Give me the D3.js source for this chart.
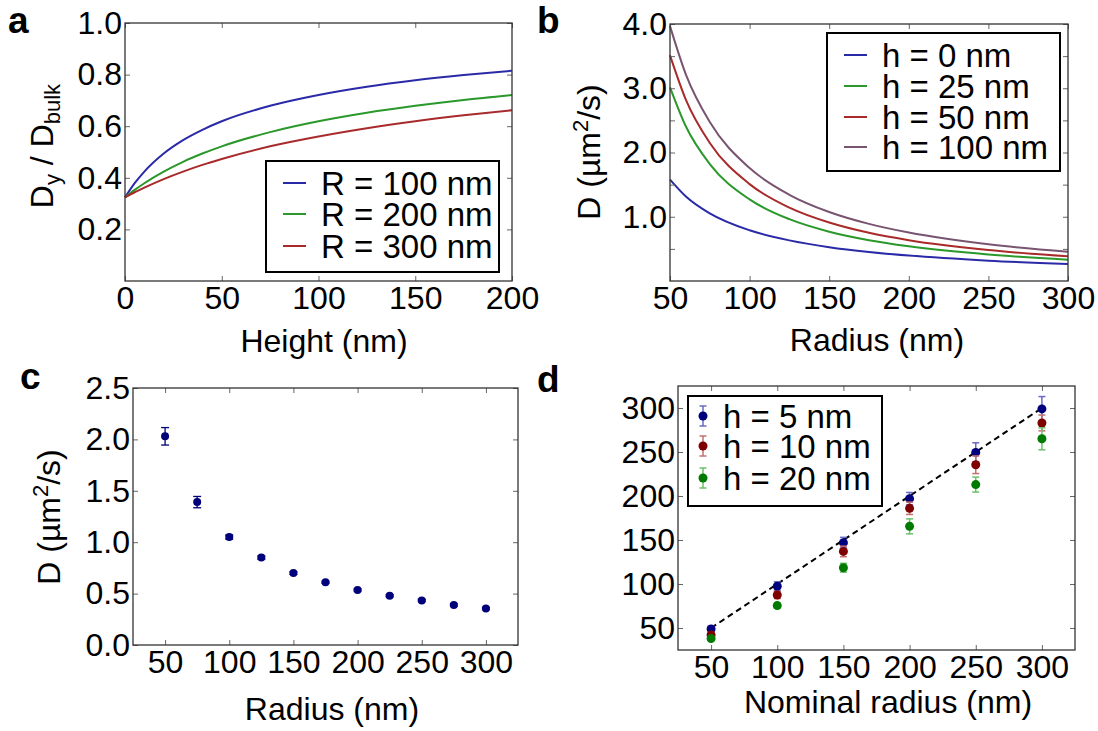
<!DOCTYPE html>
<html>
<head>
<meta charset="utf-8">
<script src="https://cdn.jsdelivr.net/npm/d3@7"></script>
<style>
  body { margin: 0; background: #fff; }
</style>
</head>
<body>
<script>
// ---- panel a: Dy/Dbulk vs height ----
var heightA   = [0, 5, 10, 20, 30, 40, 50, 75, 100, 125, 150, 175, 200];
var ratioR100 = [0.324, 0.379, 0.424, 0.494, 0.546, 0.586, 0.619, 0.679, 0.721, 0.753, 0.778, 0.798, 0.815];
var ratioR200 = [0.324, 0.353, 0.379, 0.424, 0.462, 0.494, 0.522, 0.577, 0.619, 0.652, 0.679, 0.702, 0.721];
var ratioR300 = [0.324, 0.344, 0.362, 0.395, 0.424, 0.450, 0.473, 0.522, 0.560, 0.592, 0.619, 0.642, 0.662];
var labelsA   = ["R = 100 nm", "R = 200 nm", "R = 300 nm"];

// ---- panel b: D vs radius ----
var radiusB = [50, 60, 75, 100, 125, 150, 175, 200, 250, 300];
var dH0     = [1.579, 1.316, 1.053, 0.789, 0.632, 0.526, 0.451, 0.395, 0.316, 0.263];
var dH25    = [3.015, 2.404, 1.820, 1.270, 0.962, 0.767, 0.635, 0.540, 0.413, 0.332];
var dH50    = [3.513, 2.820, 2.149, 1.508, 1.142, 0.910, 0.750, 0.635, 0.481, 0.384];
var dH100   = [3.968, 3.213, 2.474, 1.757, 1.342, 1.074, 0.889, 0.754, 0.571, 0.455];
var labelsB = ["h = 0 nm", "h = 25 nm", "h = 50 nm", "h = 100 nm"];

// ---- panel c: measured D ----
var radiusC = [50, 75, 100, 125, 150, 175, 200, 225, 250, 275, 300];
var dMeasC  = [2.03, 1.39, 1.05, 0.85, 0.70, 0.61, 0.535, 0.48, 0.434, 0.39, 0.355];
var dErrC   = [0.085, 0.055, 0.02, 0.015, 0.012, 0.01, 0.01, 0.01, 0.01, 0.01, 0.01];

// ---- panel d: measured vs nominal radius ----
var nominalD = [50, 100, 150, 200, 250, 300];
var measH5   = [49, 97.5, 147, 197, 249.5, 299];
var errH5    = [3, 5, 6, 7, 11, 14];
var measH10  = [42, 87.5, 137, 186, 235.5, 283];
var errH10   = [3, 4, 6, 7, 10, 9];
var measH20  = [38, 75.5, 118.5, 165.5, 213, 265];
var errH20   = [2, 3, 5, 8.5, 8.5, 12.5];
var labelsD  = ["h = 5 nm", "h = 10 nm", "h = 20 nm"];
var identityD = [50, 300];

var FONT = '"Liberation Sans", Arial, Helvetica, sans-serif';
var TICK_FS = 32, LABEL_FS = 32, LEGEND_FS = 33;
var BLUE = "#2a2aa8", GREEN = "#2a982a", RED = "#a82a2a", PURPLE = "#785470";

var svg = d3.select("body").append("svg")
    .attr("width", 1098)
    .attr("height", 731)
    .style("font-family", FONT);

// the y label of panel d is clipped at the panel edge in the original figure
svg.append("clipPath").attr("id", "clipD")
  .append("rect").attr("x", 549).attr("y", 365).attr("width", 549).attr("height", 366);

// builds one axes box with inward ticks on all four sides
function makePanel(box, xDom, yDom, xTicks, yTicks, xFmt, yFmt) {
    var w = box.right - box.left, h = box.bottom - box.top;
    var g = svg.append("g").attr("transform", "translate(" + box.left + "," + box.top + ")");
    var x = d3.scaleLinear().domain(xDom).range([0, w]);
    var y = d3.scaleLinear().domain(yDom).range([h, 0]);
    var marks = g.append("g");
    var axes = g.append("g");

    axes.append("g")
        .attr("transform", "translate(0," + h + ")")
        .call(d3.axisBottom(x).tickValues(xTicks).tickFormat(xFmt)
            .tickSizeInner(-5).tickSizeOuter(0).tickPadding(5));
    axes.append("g")
        .call(d3.axisTop(x).tickValues(xTicks).tickFormat("")
            .tickSizeInner(-5).tickSizeOuter(0));
    axes.append("g")
        .call(d3.axisLeft(y).tickValues(yTicks).tickFormat(yFmt)
            .tickSizeInner(-5).tickSizeOuter(0).tickPadding(3));
    axes.append("g")
        .attr("transform", "translate(" + w + ",0)")
        .call(d3.axisRight(y).tickValues(yTicks).tickFormat("")
            .tickSizeInner(-5).tickSizeOuter(0));

    axes.selectAll(".domain").remove();
    axes.selectAll(".tick line").attr("stroke", "#666");
    axes.selectAll("g").attr("font-family", FONT).attr("font-size", TICK_FS);
    axes.selectAll(".tick text")
        .attr("font-size", TICK_FS)
        .attr("font-family", FONT)
        .attr("fill", "#000");

    axes.append("rect")
        .attr("width", w).attr("height", h)
        .attr("fill", "none").attr("stroke", "#333").attr("stroke-width", 1.3);

    return {g: g, marks: marks, x: x, y: y, w: w, h: h};
}

function xLabel(p, cx, baseline, txt) {
    p.g.append("text")
        .attr("x", cx).attr("y", baseline)
        .attr("text-anchor", "middle")
        .attr("font-size", LABEL_FS)
        .text(txt);
}

// rotated label; parts = [[text, "sub"|"sup"|null], ...]
function yLabel(xBase, yPos, anchor, parts) {
    var t = svg.append("text")
        .attr("transform", "translate(" + xBase + "," + yPos + ") rotate(-90)")
        .attr("text-anchor", anchor)
        .attr("font-size", LABEL_FS);
    parts.forEach(function(pt) {
        var s = t.append("tspan").text(pt[0]);
        if (pt[1] === "sub") s.attr("font-size", 22).attr("baseline-shift", "-7");
        if (pt[1] === "sup") s.attr("font-size", 22).attr("baseline-shift", "12");
    });
    return t;
}

function panelLetter(x, y, txt) {
    svg.append("text")
        .attr("x", x).attr("y", y)
        .attr("font-size", 37)
        .attr("font-weight", "bold")
        .text(txt);
}

function lineLegend(p, bx, by, bw, bh, rowY, colors, labels) {
    var lg = p.g.append("g").attr("transform", "translate(" + bx + "," + by + ")");
    lg.append("rect").attr("width", bw).attr("height", bh)
        .attr("fill", "#fff").attr("stroke", "#000").attr("stroke-width", 2);
    labels.forEach(function(lab, i) {
        var yy = rowY[i];
        lg.append("line").attr("x1", 17).attr("x2", 40).attr("y1", yy).attr("y2", yy)
            .attr("stroke", colors[i]).attr("stroke-width", 2);
        lg.append("text").attr("x", 55).attr("y", yy).attr("dy", "0.35em")
            .attr("font-size", LEGEND_FS).text(lab);
    });
}

// ---------------- panel a ----------------
var pa = makePanel({left: 125, right: 512, top: 23, bottom: 281},
    [0, 200], [0, 1], [0, 50, 100, 150, 200], [0.2, 0.4, 0.6, 0.8, 1.0],
    d3.format("d"), d3.format(".1f"));

var lineA = d3.line()
    .x(function(d) { return pa.x(d[0]); })
    .y(function(d) { return pa.y(d[1]); })
    .curve(d3.curveMonotoneX);

[[ratioR100, BLUE], [ratioR200, GREEN], [ratioR300, RED]].forEach(function(s) {
    pa.marks.append("path")
        .datum(d3.zip(heightA, s[0]))
        .attr("d", lineA)
        .attr("fill", "none")
        .attr("stroke", s[1])
        .attr("stroke-width", 2);
});

lineLegend(pa, 141, 138, 233, 111, [22, 53, 85], [BLUE, GREEN, RED], labelsA);
xLabel(pa, 199, 71 + 258, "Height (nm)");
yLabel(53, 146, "middle", [["D", null], ["y", "sub"], [" / D", null], ["bulk", "sub"]]);
panelLetter(8, 33, "a");

// ---------------- panel b ----------------
var pb = makePanel({left: 670, right: 1068, top: 24, bottom: 281},
    [50, 300], [0, 4], [50, 100, 150, 200, 250, 300],
    [0.5, 1, 1.5, 2, 2.5, 3, 3.5, 4],
    d3.format("d"), function(d) { return Number.isInteger(d) ? d.toFixed(1) : ""; });

var lineB = d3.line()
    .x(function(d) { return pb.x(d[0]); })
    .y(function(d) { return pb.y(d[1]); })
    .curve(d3.curveMonotoneX);

[[dH0, BLUE], [dH25, GREEN], [dH50, RED], [dH100, PURPLE]].forEach(function(s) {
    pb.marks.append("path")
        .datum(d3.zip(radiusB, s[0]))
        .attr("d", lineB)
        .attr("fill", "none")
        .attr("stroke", s[1])
        .attr("stroke-width", 2);
});

lineLegend(pb, 157, 9, 233, 138, [22, 53, 84, 114], [BLUE, GREEN, RED, PURPLE], labelsB);
xLabel(pb, 207, 70 + 257, "Radius (nm)");
yLabel(600, 152, "middle", [["D (µm", null], ["2", "sup"], ["/s)", null]]);
panelLetter(537, 33, "b");

// ---------------- panel c ----------------
var pc = makePanel({left: 133, right: 518, top: 388, bottom: 645},
    [25, 325], [0, 2.5], [50, 100, 150, 200, 250, 300],
    [0, 0.5, 1, 1.5, 2, 2.5],
    d3.format("d"), d3.format(".1f"));

var NAVY = "#00007a";
radiusC.forEach(function(r, i) {
    var cx = pc.x(r), y0 = pc.y(dMeasC[i] - dErrC[i]), y1 = pc.y(dMeasC[i] + dErrC[i]);
    pc.marks.append("line").attr("x1", cx).attr("x2", cx).attr("y1", y0).attr("y2", y1)
        .attr("stroke", NAVY).attr("stroke-width", 1.3);
    [y0, y1].forEach(function(yy) {
        pc.marks.append("line").attr("x1", cx - 4).attr("x2", cx + 4).attr("y1", yy).attr("y2", yy)
            .attr("stroke", NAVY).attr("stroke-width", 1.3);
    });
    pc.marks.append("circle").attr("cx", cx).attr("cy", pc.y(dMeasC[i])).attr("r", 4)
        .attr("fill", NAVY);
});

xLabel(pc, 199, 75 + 257, "Radius (nm)");
yLabel(60, 517, "middle", [["D (µm", null], ["2", "sup"], ["/s)", null]]);
panelLetter(20, 389, "c");

// ---------------- panel d ----------------
var pd = makePanel({left: 678, right: 1075, top: 386, bottom: 650},
    [25, 325], [25, 325], [50, 100, 150, 200, 250, 300],
    [50, 100, 150, 200, 250, 300],
    d3.format("d"), d3.format("d"));

pd.marks.append("line")
    .attr("x1", pd.x(identityD[0])).attr("y1", pd.y(identityD[0]))
    .attr("x2", pd.x(identityD[1])).attr("y2", pd.y(identityD[1]))
    .attr("stroke", "#000").attr("stroke-width", 2)
    .attr("stroke-dasharray", "6,4");

var seriesD = [
    {v: measH5,  e: errH5,  dot: "#00007f", bar: "#6a6ac4"},
    {v: measH10, e: errH10, dot: "#7f0000", bar: "#c47070"},
    {v: measH20, e: errH20, dot: "#007a00", bar: "#6cc06c"}
];

function errMarker(g, cx, cy, y0, y1, s) {
    g.append("line").attr("x1", cx).attr("x2", cx).attr("y1", y0).attr("y2", y1)
        .attr("stroke", s.bar).attr("stroke-width", 1.5);
    [y0, y1].forEach(function(yy) {
        g.append("line").attr("x1", cx - 3.5).attr("x2", cx + 3.5).attr("y1", yy).attr("y2", yy)
            .attr("stroke", s.bar).attr("stroke-width", 1.5);
    });
    g.append("circle").attr("cx", cx).attr("cy", cy).attr("r", 4.5).attr("fill", s.dot);
}

seriesD.forEach(function(s) {
    nominalD.forEach(function(n, i) {
        errMarker(pd.marks, pd.x(n), pd.y(s.v[i]), pd.y(s.v[i] - s.e[i]), pd.y(s.v[i] + s.e[i]), s);
    });
});

var lgd = pd.g.append("g").attr("transform", "translate(10,10)");
lgd.append("rect").attr("width", 194).attr("height", 110)
    .attr("fill", "#fff").attr("stroke", "#000").attr("stroke-width", 2);
labelsD.forEach(function(lab, i) {
    var yy = [20, 50, 82][i];
    errMarker(lgd, 15, yy, yy - 10, yy + 10, seriesD[i]);
    lgd.append("text").attr("x", 35).attr("y", yy).attr("dy", "0.35em")
        .attr("font-size", LEGEND_FS).text(lab);
});

xLabel(pd, 210, 63 + 264, "Nominal radius (nm)");
yLabel(602, 677, "start", [["Measured radius (nm)", null]]).attr("clip-path", "url(#clipD)");
panelLetter(537, 392, "d");
</script>
</body>
</html>
